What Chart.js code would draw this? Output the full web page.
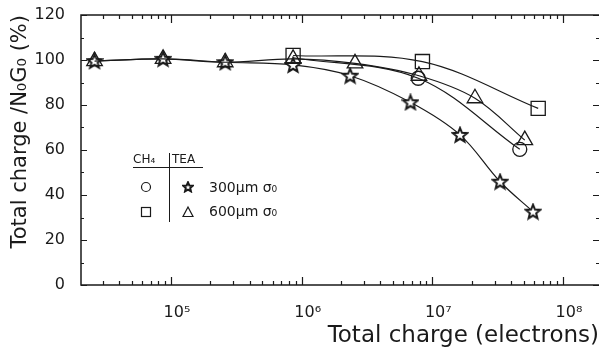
<!DOCTYPE html>
<html>
<head>
<meta charset="utf-8">
<script src="https://cdn.jsdelivr.net/npm/chart.js@4.4.1/dist/chart.umd.min.js"></script>
<style>
  html, body { margin: 0; padding: 0; background: #fff; }
  canvas { display: block; }
</style>
</head>
<body>
<canvas id="g1" width="599" height="352"></canvas>
<script>
// Donnees (charge totale en electrons, rapport en %)
var xTea300 = [2.6e4, 8.7e4, 2.6e5, 8.6e5, 2.35e6, 6.8e6, 1.63e7, 3.3e7, 5.9e7];
var yTea300 = [99.5, 100.5, 99, 97.8, 93, 81.2, 66.7, 45.9, 32.6];
var xTea600 = [2.6e4, 8.7e4, 2.6e5, 8.6e5, 2.56e6, 7.9e6, 2.12e7, 5.1e7];
var yTea600 = [99.5, 100.5, 99, 100.5, 98.5, 93, 83, 64.4];
var xCh300 = [8.6e5, 7.8e6, 4.67e7];
var yCh300 = [101, 91.9, 60.3];
var xCh600 = [8.6e5, 8.4e6, 6.46e7];
var yCh600 = [102, 99.3, 78.5];
var xTicks = [1e5, 1e6, 1e7, 1e8];
var xTickLabels = ["10⁵", "10⁶", "10⁷", "10⁸"];

var police = "'DejaVu Sans', sans-serif";
var noir = "#1a1a1a";

function points(xs, ys) {
  return xs.map(function (x, i) { return { x: x, y: ys[i] }; });
}

// etoile a cinq branches pour la serie TEA 300
function dessinerEtoile(ctx, cx, cy, rExt, rInt) {
  ctx.beginPath();
  for (var i = 0; i < 10; i++) {
    var r = i % 2 == 0 ? rExt : rInt;
    var a = -Math.PI / 2 + i * Math.PI / 5;
    var px = cx + r * Math.cos(a), py = cy + r * Math.sin(a);
    if (i == 0) ctx.moveTo(px, py); else ctx.lineTo(px, py);
  }
  ctx.closePath();
  ctx.fillStyle = "#fff";
  ctx.fill();
  ctx.stroke();
}

var etoile = document.createElement("canvas");
etoile.width = 18; etoile.height = 18;
(function () {
  var c = etoile.getContext("2d");
  c.strokeStyle = noir; c.lineWidth = 2; c.lineJoin = "miter";
  dessinerEtoile(c, 9, 9.5, 7.5, 3.3);
})();

var petiteEtoile = document.createElement("canvas");
petiteEtoile.width = 12; petiteEtoile.height = 12;
(function () {
  var c = petiteEtoile.getContext("2d");
  c.strokeStyle = noir; c.lineWidth = 2;
  dessinerEtoile(c, 6, 6.3, 5, 2.3);
})();

// cadre et graduations vers l'interieur
var cadre = {
  id: "cadre",
  afterDatasetsDraw: function (chart) {
    var ctx = chart.ctx, a = chart.chartArea;
    var sx = chart.scales.x, sy = chart.scales.y;
    ctx.save();
    ctx.strokeStyle = noir;
    ctx.lineWidth = 1.5;
    ctx.beginPath();
    ctx.moveTo(a.right, a.top); ctx.lineTo(a.left, a.top);
    ctx.lineTo(a.left, a.bottom); ctx.lineTo(a.right, a.bottom);
    ctx.stroke();
    ctx.lineWidth = 1.2;
    ctx.beginPath();
    for (var v = 0; v <= 120; v += 10) {
      var y = Math.round(sy.getPixelForValue(v)) + 0.5;
      var l = v % 20 == 0 ? 6 : 3;
      ctx.moveTo(a.left, y); ctx.lineTo(a.left + l, y);
      ctx.moveTo(a.right, y); ctx.lineTo(a.right - l, y);
    }
    for (var k = 4; k <= 8; k++) {
      for (var m = 1; m <= 9; m++) {
        var val = m * Math.pow(10, k);
        if (val < sx.min || val > sx.max) continue;
        var x = Math.round(sx.getPixelForValue(val)) + 0.5;
        var lx = m == 1 ? 8 : 4;
        ctx.moveTo(x, a.bottom); ctx.lineTo(x, a.bottom - lx);
        ctx.moveTo(x, a.top); ctx.lineTo(x, a.top + lx);
      }
    }
    ctx.stroke();
    ctx.restore();
  }
};

// petit tableau de legende dans le graphique
var legende = {
  id: "legende",
  afterDraw: function (chart) {
    var ctx = chart.ctx;
    ctx.save();
    ctx.fillStyle = noir;
    ctx.strokeStyle = noir;
    ctx.textBaseline = "middle";
    ctx.font = "12px " + police;
    ctx.fillText("CH₄", 133, 160);
    ctx.fillText("TEA", 172, 160);
    ctx.lineWidth = 1;
    ctx.beginPath();
    ctx.moveTo(133, 167.5); ctx.lineTo(203, 167.5);
    ctx.moveTo(169.5, 153); ctx.lineTo(169.5, 222);
    ctx.stroke();
    ctx.lineWidth = 1.2;
    ctx.beginPath();
    ctx.arc(146, 187, 4.5, 0, Math.PI * 2);
    ctx.stroke();
    ctx.strokeRect(141.5, 207.5, 9, 9);
    ctx.beginPath();
    ctx.moveTo(188, 207); ctx.lineTo(193, 216.5); ctx.lineTo(183, 216.5); ctx.closePath();
    ctx.stroke();
    ctx.drawImage(petiteEtoile, 182, 181);
    ctx.font = "14px " + police;
    ctx.fillText("300µm σ₀", 209, 188);
    ctx.fillText("600µm σ₀", 209, 212);
    ctx.restore();
  }
};

function serie(label, data, style, rayon) {
  return {
    label: label,
    data: data,
    borderColor: noir,
    borderWidth: 1.2,
    backgroundColor: "rgba(0,0,0,0)",
    pointStyle: style,
    pointRadius: rayon,
    pointBorderWidth: 1.3,
    pointBorderColor: noir,
    tension: 0.35,
    fill: false
  };
}

new Chart(document.getElementById("g1"), {
  type: "line",
  data: {
    datasets: [
      serie("CH4 600µm", points(xCh600, yCh600), "rect", 10),
      serie("CH4 300µm", points(xCh300, yCh300), "circle", [0, 7, 7]),
      serie("TEA 600µm", points(xTea600, yTea600), "triangle", 9),
      serie("TEA 300µm", points(xTea300, yTea300), etoile, 9)
    ]
  },
  options: {
    responsive: false,
    animation: false,
    devicePixelRatio: 1,
    layout: { autoPadding: false, padding: { left: 0, top: 15, right: 0, bottom: 0 } },
    plugins: {
      legend: { display: false },
      tooltip: { enabled: false }
    },
    scales: {
      x: {
        type: "logarithmic",
        min: 20480,
        max: 1.886e8,
        grid: { display: false },
        border: { display: false },
        afterBuildTicks: function (scale) {
          scale.ticks = xTicks.map(function (v) { return { value: v }; });
        },
        afterFit: function (scale) {
          scale.height = 67;
          scale.paddingLeft = 0;
          scale.paddingRight = 0;
        },
        ticks: {
          autoSkip: false,
          maxRotation: 0,
          padding: 10,
          labelOffset: 6,
          color: noir,
          font: { family: police, size: 16 },
          callback: function (v) {
            var i = xTicks.indexOf(v);
            return i >= 0 ? xTickLabels[i] : "";
          }
        },
        title: {
          display: true,
          text: "Total charge (electrons)",
          align: "end",
          color: noir,
          font: { family: police, size: 23 },
          padding: { top: 2, bottom: 2 }
        }
      },
      y: {
        min: 0,
        max: 120,
        grid: { display: false },
        border: { display: false },
        afterFit: function (scale) {
          scale.width = 81;
          scale.paddingTop = 0;
          scale.paddingBottom = 0;
        },
        ticks: {
          stepSize: 20,
          padding: 8,
          color: noir,
          font: { family: police, size: 16 }
        },
        title: {
          display: true,
          text: "Total charge /N₀G₀ (%)",
          align: "end",
          color: noir,
          font: { family: police, size: 21 },
          padding: { top: 8, bottom: 2 }
        }
      }
    }
  },
  plugins: [cadre, legende]
});
</script>
</body>
</html>
